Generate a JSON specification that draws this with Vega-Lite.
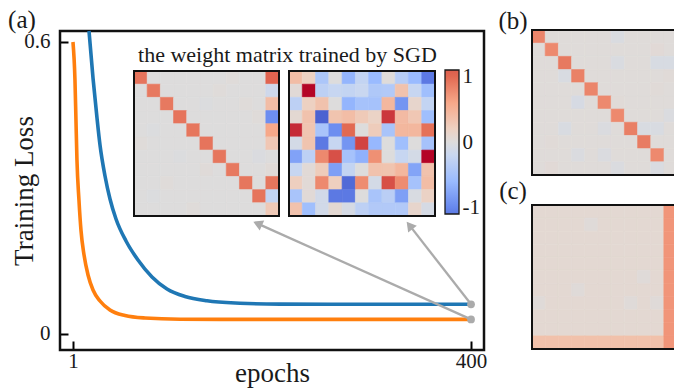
{
"$schema": "https://vega.github.io/schema/vega-lite/v6.json",
"width": 674, "height": 391, "autosize": {"type": "none"}, "padding": 0,
"background": "white",
"config": {"view": {"stroke": null}, "font": "Liberation Serif"},
"datasets": {
"loss": [
{"series":"blue","epoch":17.07,"loss":0.6226},{"series":"blue","epoch":21.08,"loss":0.526},{"series":"blue","epoch":25.09,"loss":0.4438},{"series":"blue","epoch":28.09,"loss":0.3884},{"series":"blue","epoch":33.11,"loss":0.3247},{"series":"blue","epoch":38.12,"loss":0.2774},{"series":"blue","epoch":44.13,"loss":0.2363},{"series":"blue","epoch":54.16,"loss":0.1911},{"series":"blue","epoch":66.18,"loss":0.152},{"series":"blue","epoch":80.22,"loss":0.1171},{"series":"blue","epoch":95.25,"loss":0.0924},{"series":"blue","epoch":113.3,"loss":0.077},{"series":"blue","epoch":135.35,"loss":0.0682},{"series":"blue","epoch":168.42,"loss":0.0633},{"series":"blue","epoch":208.52,"loss":0.0614},{"series":"blue","epoch":300,"loss":0.061},{"series":"blue","epoch":400,"loss":0.061},
{"series":"orange","epoch":1,"loss":0.6},{"series":"orange","epoch":3,"loss":0.5219},{"series":"orange","epoch":4,"loss":0.4397},{"series":"orange","epoch":5,"loss":0.3575},{"series":"orange","epoch":7,"loss":0.2753},{"series":"orange","epoch":9,"loss":0.2137},{"series":"orange","epoch":12.1,"loss":0.1623},{"series":"orange","epoch":16.1,"loss":0.1212},{"series":"orange","epoch":21.1,"loss":0.0904},{"series":"orange","epoch":28.1,"loss":0.0678},{"series":"orange","epoch":38.1,"loss":0.0493},{"series":"orange","epoch":53.2,"loss":0.038},{"series":"orange","epoch":73.2,"loss":0.0329},{"series":"orange","epoch":108.3,"loss":0.0304},{"series":"orange","epoch":178.4,"loss":0.03},{"series":"orange","epoch":400,"loss":0.03}
],
"arrows": [
{"id":1,"epoch":400,"loss":0.03,"epoch2":186.1,"loss2":0.2268},
{"id":2,"epoch":400,"loss":0.061,"epoch2":338.4,"loss2":0.2231}
],
"heads": [
{"id":1,"epoch":186.1,"loss":0.2268},
{"id":2,"epoch":338.4,"loss":0.2231}
],
"m1": [
{"r":0,"c":0,"v":0.93},{"r":0,"c":1,"v":0},{"r":0,"c":2,"v":0},{"r":0,"c":3,"v":0},{"r":0,"c":4,"v":0},{"r":0,"c":5,"v":0},{"r":0,"c":6,"v":0},{"r":0,"c":7,"v":0.02},{"r":0,"c":8,"v":0},{"r":0,"c":9,"v":0},{"r":0,"c":10,"v":1.02},
{"r":1,"c":0,"v":0},{"r":1,"c":1,"v":0.9},{"r":1,"c":2,"v":0},{"r":1,"c":3,"v":0},{"r":1,"c":4,"v":0},{"r":1,"c":5,"v":0},{"r":1,"c":6,"v":0.02},{"r":1,"c":7,"v":0},{"r":1,"c":8,"v":0},{"r":1,"c":9,"v":0},{"r":1,"c":10,"v":-0.15},
{"r":2,"c":0,"v":0},{"r":2,"c":1,"v":0},{"r":2,"c":2,"v":0.9},{"r":2,"c":3,"v":0},{"r":2,"c":4,"v":0},{"r":2,"c":5,"v":-0.02},{"r":2,"c":6,"v":0},{"r":2,"c":7,"v":0},{"r":2,"c":8,"v":0.02},{"r":2,"c":9,"v":0},{"r":2,"c":10,"v":0.4},
{"r":3,"c":0,"v":0},{"r":3,"c":1,"v":0},{"r":3,"c":2,"v":0},{"r":3,"c":3,"v":0.93},{"r":3,"c":4,"v":0},{"r":3,"c":5,"v":0},{"r":3,"c":6,"v":0},{"r":3,"c":7,"v":0},{"r":3,"c":8,"v":0},{"r":3,"c":9,"v":0.02},{"r":3,"c":10,"v":-0.95},
{"r":4,"c":0,"v":0},{"r":4,"c":1,"v":-0.02},{"r":4,"c":2,"v":0},{"r":4,"c":3,"v":0},{"r":4,"c":4,"v":0.92},{"r":4,"c":5,"v":0},{"r":4,"c":6,"v":0},{"r":4,"c":7,"v":0},{"r":4,"c":8,"v":0},{"r":4,"c":9,"v":0},{"r":4,"c":10,"v":0.6},
{"r":5,"c":0,"v":0.02},{"r":5,"c":1,"v":0},{"r":5,"c":2,"v":0},{"r":5,"c":3,"v":0},{"r":5,"c":4,"v":0},{"r":5,"c":5,"v":0.93},{"r":5,"c":6,"v":0},{"r":5,"c":7,"v":0},{"r":5,"c":8,"v":0},{"r":5,"c":9,"v":0},{"r":5,"c":10,"v":0.3},
{"r":6,"c":0,"v":0},{"r":6,"c":1,"v":0},{"r":6,"c":2,"v":0},{"r":6,"c":3,"v":-0.02},{"r":6,"c":4,"v":0},{"r":6,"c":5,"v":0},{"r":6,"c":6,"v":0.92},{"r":6,"c":7,"v":0},{"r":6,"c":8,"v":0},{"r":6,"c":9,"v":-0.03},{"r":6,"c":10,"v":0},
{"r":7,"c":0,"v":0},{"r":7,"c":1,"v":0},{"r":7,"c":2,"v":0},{"r":7,"c":3,"v":0},{"r":7,"c":4,"v":0},{"r":7,"c":5,"v":0.03},{"r":7,"c":6,"v":0},{"r":7,"c":7,"v":0.9},{"r":7,"c":8,"v":0},{"r":7,"c":9,"v":0},{"r":7,"c":10,"v":0.04},
{"r":8,"c":0,"v":0},{"r":8,"c":1,"v":0},{"r":8,"c":2,"v":0.02},{"r":8,"c":3,"v":0},{"r":8,"c":4,"v":0},{"r":8,"c":5,"v":0},{"r":8,"c":6,"v":0},{"r":8,"c":7,"v":0},{"r":8,"c":8,"v":0.92},{"r":8,"c":9,"v":0},{"r":8,"c":10,"v":0.92},
{"r":9,"c":0,"v":0},{"r":9,"c":1,"v":-0.02},{"r":9,"c":2,"v":0},{"r":9,"c":3,"v":0},{"r":9,"c":4,"v":0},{"r":9,"c":5,"v":0},{"r":9,"c":6,"v":0},{"r":9,"c":7,"v":0},{"r":9,"c":8,"v":0},{"r":9,"c":9,"v":0.93},{"r":9,"c":10,"v":-0.25},
{"r":10,"c":0,"v":0},{"r":10,"c":1,"v":0},{"r":10,"c":2,"v":0},{"r":10,"c":3,"v":0},{"r":10,"c":4,"v":0.02},{"r":10,"c":5,"v":0},{"r":10,"c":6,"v":0},{"r":10,"c":7,"v":0},{"r":10,"c":8,"v":0},{"r":10,"c":9,"v":0},{"r":10,"c":10,"v":0.28}
],
"m2": [
{"r":0,"c":0,"v":0.4},{"r":0,"c":1,"v":0.2},{"r":0,"c":2,"v":-0.45},{"r":0,"c":3,"v":0},{"r":0,"c":4,"v":-0.65},{"r":0,"c":5,"v":-0.25},{"r":0,"c":6,"v":-0.6},{"r":0,"c":7,"v":0.02},{"r":0,"c":8,"v":-0.35},{"r":0,"c":9,"v":-0.6},{"r":0,"c":10,"v":-1.1},
{"r":1,"c":0,"v":0.05},{"r":1,"c":1,"v":1.4},{"r":1,"c":2,"v":-0.3},{"r":1,"c":3,"v":-0.22},{"r":1,"c":4,"v":-0.25},{"r":1,"c":5,"v":-0.2},{"r":1,"c":6,"v":-0.42},{"r":1,"c":7,"v":-0.4},{"r":1,"c":8,"v":0.35},{"r":1,"c":9,"v":-0.22},{"r":1,"c":10,"v":-0.55},
{"r":2,"c":0,"v":-0.3},{"r":2,"c":1,"v":0.2},{"r":2,"c":2,"v":0.35},{"r":2,"c":3,"v":0},{"r":2,"c":4,"v":-0.65},{"r":2,"c":5,"v":-0.5},{"r":2,"c":6,"v":-0.5},{"r":2,"c":7,"v":0.45},{"r":2,"c":8,"v":-0.9},{"r":2,"c":9,"v":0.12},{"r":2,"c":10,"v":-0.25},
{"r":3,"c":0,"v":0.08},{"r":3,"c":1,"v":0.35},{"r":3,"c":2,"v":-1.25},{"r":3,"c":3,"v":0.33},{"r":3,"c":4,"v":0.4},{"r":3,"c":5,"v":0.27},{"r":3,"c":6,"v":0.17},{"r":3,"c":7,"v":1.2},{"r":3,"c":8,"v":0.42},{"r":3,"c":9,"v":0.3},{"r":3,"c":10,"v":-0.55},
{"r":4,"c":0,"v":1.25},{"r":4,"c":1,"v":0.32},{"r":4,"c":2,"v":-0.47},{"r":4,"c":3,"v":-0.95},{"r":4,"c":4,"v":1.0},{"r":4,"c":5,"v":0},{"r":4,"c":6,"v":0.25},{"r":4,"c":7,"v":-0.47},{"r":4,"c":8,"v":0.45},{"r":4,"c":9,"v":0.45},{"r":4,"c":10,"v":0.95},
{"r":5,"c":0,"v":-0.1},{"r":5,"c":1,"v":0.33},{"r":5,"c":2,"v":-1.1},{"r":5,"c":3,"v":-0.22},{"r":5,"c":4,"v":-0.9},{"r":5,"c":5,"v":1.15},{"r":5,"c":6,"v":-0.62},{"r":5,"c":7,"v":0},{"r":5,"c":8,"v":-0.55},{"r":5,"c":9,"v":0},{"r":5,"c":10,"v":-0.5},
{"r":6,"c":0,"v":-0.8},{"r":6,"c":1,"v":-0.3},{"r":6,"c":2,"v":0.8},{"r":6,"c":3,"v":1.1},{"r":6,"c":4,"v":-0.5},{"r":6,"c":5,"v":-0.68},{"r":6,"c":6,"v":0.75},{"r":6,"c":7,"v":0},{"r":6,"c":8,"v":-0.22},{"r":6,"c":9,"v":-0.1},{"r":6,"c":10,"v":1.4},
{"r":7,"c":0,"v":-0.22},{"r":7,"c":1,"v":0.05},{"r":7,"c":2,"v":0.25},{"r":7,"c":3,"v":-0.82},{"r":7,"c":4,"v":-0.25},{"r":7,"c":5,"v":0},{"r":7,"c":6,"v":0.35},{"r":7,"c":7,"v":0.33},{"r":7,"c":8,"v":0.45},{"r":7,"c":9,"v":-0.78},{"r":7,"c":10,"v":0.35},
{"r":8,"c":0,"v":0.22},{"r":8,"c":1,"v":0.05},{"r":8,"c":2,"v":0.8},{"r":8,"c":3,"v":0.22},{"r":8,"c":4,"v":-1.2},{"r":8,"c":5,"v":0.78},{"r":8,"c":6,"v":-0.1},{"r":8,"c":7,"v":1.1},{"r":8,"c":8,"v":0.78},{"r":8,"c":9,"v":-0.5},{"r":8,"c":10,"v":0.4},
{"r":9,"c":0,"v":-0.47},{"r":9,"c":1,"v":0.05},{"r":9,"c":2,"v":-0.12},{"r":9,"c":3,"v":-1.1},{"r":9,"c":4,"v":-1.1},{"r":9,"c":5,"v":0},{"r":9,"c":6,"v":-0.47},{"r":9,"c":7,"v":-0.33},{"r":9,"c":8,"v":-0.82},{"r":9,"c":9,"v":-0.05},{"r":9,"c":10,"v":0.18},
{"r":10,"c":0,"v":0.35},{"r":10,"c":1,"v":-0.55},{"r":10,"c":2,"v":-0.12},{"r":10,"c":3,"v":0.08},{"r":10,"c":4,"v":-0.08},{"r":10,"c":5,"v":-0.3},{"r":10,"c":6,"v":-0.4},{"r":10,"c":7,"v":-0.4},{"r":10,"c":8,"v":-0.4},{"r":10,"c":9,"v":0.12},{"r":10,"c":10,"v":-0.08}
],
"mb": [
{"r":0,"c":0,"v":0.82},{"r":0,"c":1,"v":0.02},{"r":0,"c":2,"v":0.02},{"r":0,"c":3,"v":0.02},{"r":0,"c":4,"v":0.02},{"r":0,"c":5,"v":0.02},{"r":0,"c":6,"v":-0.04},{"r":0,"c":7,"v":0.02},{"r":0,"c":8,"v":0.02},{"r":0,"c":9,"v":0.02},{"r":0,"c":10,"v":0.02},
{"r":1,"c":0,"v":0.02},{"r":1,"c":1,"v":0.8},{"r":1,"c":2,"v":0.02},{"r":1,"c":3,"v":0.02},{"r":1,"c":4,"v":0.02},{"r":1,"c":5,"v":0.02},{"r":1,"c":6,"v":0.02},{"r":1,"c":7,"v":0.02},{"r":1,"c":8,"v":0.02},{"r":1,"c":9,"v":0.05},{"r":1,"c":10,"v":0.02},
{"r":2,"c":0,"v":0.02},{"r":2,"c":1,"v":0.02},{"r":2,"c":2,"v":0.9},{"r":2,"c":3,"v":0.02},{"r":2,"c":4,"v":0.02},{"r":2,"c":5,"v":0.02},{"r":2,"c":6,"v":-0.04},{"r":2,"c":7,"v":0.02},{"r":2,"c":8,"v":0.02},{"r":2,"c":9,"v":-0.06},{"r":2,"c":10,"v":-0.06},
{"r":3,"c":0,"v":0.02},{"r":3,"c":1,"v":0.02},{"r":3,"c":2,"v":-0.05},{"r":3,"c":3,"v":0.85},{"r":3,"c":4,"v":0.02},{"r":3,"c":5,"v":0.02},{"r":3,"c":6,"v":0.02},{"r":3,"c":7,"v":0.02},{"r":3,"c":8,"v":0.02},{"r":3,"c":9,"v":0.02},{"r":3,"c":10,"v":0.04},
{"r":4,"c":0,"v":0.02},{"r":4,"c":1,"v":0.02},{"r":4,"c":2,"v":0.02},{"r":4,"c":3,"v":0.02},{"r":4,"c":4,"v":0.82},{"r":4,"c":5,"v":0.02},{"r":4,"c":6,"v":0.02},{"r":4,"c":7,"v":0.02},{"r":4,"c":8,"v":0.02},{"r":4,"c":9,"v":0.04},{"r":4,"c":10,"v":0.02},
{"r":5,"c":0,"v":0.02},{"r":5,"c":1,"v":0.02},{"r":5,"c":2,"v":0.02},{"r":5,"c":3,"v":-0.07},{"r":5,"c":4,"v":0.02},{"r":5,"c":5,"v":0.8},{"r":5,"c":6,"v":0.04},{"r":5,"c":7,"v":0.02},{"r":5,"c":8,"v":0.02},{"r":5,"c":9,"v":0.02},{"r":5,"c":10,"v":0.02},
{"r":6,"c":0,"v":0.02},{"r":6,"c":1,"v":0.02},{"r":6,"c":2,"v":0.02},{"r":6,"c":3,"v":0.02},{"r":6,"c":4,"v":0.02},{"r":6,"c":5,"v":0.02},{"r":6,"c":6,"v":0.8},{"r":6,"c":7,"v":0.02},{"r":6,"c":8,"v":0.02},{"r":6,"c":9,"v":0.02},{"r":6,"c":10,"v":-0.03},
{"r":7,"c":0,"v":0.02},{"r":7,"c":1,"v":0.02},{"r":7,"c":2,"v":-0.05},{"r":7,"c":3,"v":0.02},{"r":7,"c":4,"v":0.02},{"r":7,"c":5,"v":-0.03},{"r":7,"c":6,"v":0.02},{"r":7,"c":7,"v":0.86},{"r":7,"c":8,"v":-0.05},{"r":7,"c":9,"v":-0.05},{"r":7,"c":10,"v":0.02},
{"r":8,"c":0,"v":0.02},{"r":8,"c":1,"v":0.04},{"r":8,"c":2,"v":0.02},{"r":8,"c":3,"v":0.02},{"r":8,"c":4,"v":0.02},{"r":8,"c":5,"v":0.02},{"r":8,"c":6,"v":0.02},{"r":8,"c":7,"v":0.02},{"r":8,"c":8,"v":0.88},{"r":8,"c":9,"v":0.02},{"r":8,"c":10,"v":0.02},
{"r":9,"c":0,"v":0.02},{"r":9,"c":1,"v":0.02},{"r":9,"c":2,"v":0.02},{"r":9,"c":3,"v":-0.03},{"r":9,"c":4,"v":0.02},{"r":9,"c":5,"v":-0.03},{"r":9,"c":6,"v":0.02},{"r":9,"c":7,"v":0.02},{"r":9,"c":8,"v":0.02},{"r":9,"c":9,"v":0.8},{"r":9,"c":10,"v":0.02},
{"r":10,"c":0,"v":0.02},{"r":10,"c":1,"v":0.05},{"r":10,"c":2,"v":0.02},{"r":10,"c":3,"v":0.02},{"r":10,"c":4,"v":0.02},{"r":10,"c":5,"v":0.02},{"r":10,"c":6,"v":-0.03},{"r":10,"c":7,"v":0.02},{"r":10,"c":8,"v":0.02},{"r":10,"c":9,"v":-0.04},{"r":10,"c":10,"v":0.02}
],
"mc": [
{"r":0,"c":0,"v":0.08},{"r":0,"c":1,"v":0.08},{"r":0,"c":2,"v":0.08},{"r":0,"c":3,"v":0.08},{"r":0,"c":4,"v":0.08},{"r":0,"c":5,"v":0.08},{"r":0,"c":6,"v":0.08},{"r":0,"c":7,"v":0.08},{"r":0,"c":8,"v":0.08},{"r":0,"c":9,"v":0.08},{"r":0,"c":10,"v":0.72},
{"r":1,"c":0,"v":0.08},{"r":1,"c":1,"v":0.08},{"r":1,"c":2,"v":0.08},{"r":1,"c":3,"v":0.08},{"r":1,"c":4,"v":0.03},{"r":1,"c":5,"v":0.08},{"r":1,"c":6,"v":0.08},{"r":1,"c":7,"v":0.08},{"r":1,"c":8,"v":0.08},{"r":1,"c":9,"v":0.08},{"r":1,"c":10,"v":0.72},
{"r":2,"c":0,"v":0.08},{"r":2,"c":1,"v":0.08},{"r":2,"c":2,"v":0.08},{"r":2,"c":3,"v":0.08},{"r":2,"c":4,"v":0.08},{"r":2,"c":5,"v":0.08},{"r":2,"c":6,"v":0.08},{"r":2,"c":7,"v":0.08},{"r":2,"c":8,"v":0.08},{"r":2,"c":9,"v":0.08},{"r":2,"c":10,"v":0.72},
{"r":3,"c":0,"v":0.08},{"r":3,"c":1,"v":0.08},{"r":3,"c":2,"v":0.08},{"r":3,"c":3,"v":0.08},{"r":3,"c":4,"v":0.08},{"r":3,"c":5,"v":0.08},{"r":3,"c":6,"v":0.08},{"r":3,"c":7,"v":0.08},{"r":3,"c":8,"v":0.08},{"r":3,"c":9,"v":0.08},{"r":3,"c":10,"v":0.72},
{"r":4,"c":0,"v":0.08},{"r":4,"c":1,"v":0.08},{"r":4,"c":2,"v":0.08},{"r":4,"c":3,"v":0.08},{"r":4,"c":4,"v":0.08},{"r":4,"c":5,"v":0.08},{"r":4,"c":6,"v":0.08},{"r":4,"c":7,"v":0.08},{"r":4,"c":8,"v":0.08},{"r":4,"c":9,"v":0.08},{"r":4,"c":10,"v":0.72},
{"r":5,"c":0,"v":0.08},{"r":5,"c":1,"v":0.08},{"r":5,"c":2,"v":0.08},{"r":5,"c":3,"v":0.08},{"r":5,"c":4,"v":0.08},{"r":5,"c":5,"v":0.08},{"r":5,"c":6,"v":0.08},{"r":5,"c":7,"v":0.08},{"r":5,"c":8,"v":0.03},{"r":5,"c":9,"v":0.08},{"r":5,"c":10,"v":0.72},
{"r":6,"c":0,"v":0.08},{"r":6,"c":1,"v":0.08},{"r":6,"c":2,"v":0.08},{"r":6,"c":3,"v":0.03},{"r":6,"c":4,"v":0.08},{"r":6,"c":5,"v":0.08},{"r":6,"c":6,"v":0.08},{"r":6,"c":7,"v":0.08},{"r":6,"c":8,"v":0.08},{"r":6,"c":9,"v":0.08},{"r":6,"c":10,"v":0.72},
{"r":7,"c":0,"v":0.03},{"r":7,"c":1,"v":0.08},{"r":7,"c":2,"v":0.08},{"r":7,"c":3,"v":0.08},{"r":7,"c":4,"v":0.08},{"r":7,"c":5,"v":0.08},{"r":7,"c":6,"v":0.08},{"r":7,"c":7,"v":0.03},{"r":7,"c":8,"v":0.08},{"r":7,"c":9,"v":0.03},{"r":7,"c":10,"v":0.72},
{"r":8,"c":0,"v":0.08},{"r":8,"c":1,"v":0.08},{"r":8,"c":2,"v":0.08},{"r":8,"c":3,"v":0.08},{"r":8,"c":4,"v":0.08},{"r":8,"c":5,"v":0.08},{"r":8,"c":6,"v":0.08},{"r":8,"c":7,"v":0.08},{"r":8,"c":8,"v":0.08},{"r":8,"c":9,"v":0.08},{"r":8,"c":10,"v":0.72},
{"r":9,"c":0,"v":0.08},{"r":9,"c":1,"v":0.08},{"r":9,"c":2,"v":0.08},{"r":9,"c":3,"v":0.08},{"r":9,"c":4,"v":0.08},{"r":9,"c":5,"v":0.08},{"r":9,"c":6,"v":0.08},{"r":9,"c":7,"v":0.08},{"r":9,"c":8,"v":0.08},{"r":9,"c":9,"v":0.08},{"r":9,"c":10,"v":0.72},
{"r":10,"c":0,"v":0.36},{"r":10,"c":1,"v":0.36},{"r":10,"c":2,"v":0.36},{"r":10,"c":3,"v":0.36},{"r":10,"c":4,"v":0.36},{"r":10,"c":5,"v":0.36},{"r":10,"c":6,"v":0.36},{"r":10,"c":7,"v":0.36},{"r":10,"c":8,"v":0.36},{"r":10,"c":9,"v":0.36},{"r":10,"c":10,"v":0.72}
]
},
"resolve": {"scale": {"x": "independent", "y": "independent", "color": "independent", "stroke": "independent"}, "axis": {"x": "independent", "y": "independent"}},
"layer": [
{
 "data": {"values": [{}]}, "mark": {"type": "rect", "fillOpacity": 0, "stroke": "#111111", "strokeWidth": 2.5},
 "encoding": {
  "x": {"datum": 0, "type": "quantitative", "scale": {"domain": [0, 1], "range": [60, 484], "nice": false, "zero": false}, "axis": null},
  "x2": {"datum": 1},
  "y": {"datum": 0, "type": "quantitative", "scale": {"domain": [0, 1], "range": [31, 350], "nice": false, "zero": false}, "axis": null},
  "y2": {"datum": 1}
 }
},
{
 "data": {"name": "loss"},
 "encoding": {
  "x": {"field": "epoch", "type": "quantitative", "scale": {"domain": [-12, 413], "range": [60, 484], "nice": false, "zero": false},
        "axis": {"orient": "bottom", "offset": -41, "values": [1, 400], "tickSize": -9, "tickWidth": 2, "tickColor": "black", "domain": false, "grid": false, "labelFont": "Liberation Serif", "labelFontSize": 21, "labelColor": "#1a1a1a", "labelPadding": 9, "labelFlush": false, "title": "epochs", "titleFont": "Liberation Serif", "titleFontSize": 27, "titleFontWeight": "normal", "titleColor": "#1a1a1a", "titleBaseline": "alphabetic", "titleY": 31}},
  "y": {"field": "loss", "type": "quantitative", "scale": {"domain": [-0.0329, 0.6226], "range": [350, 31], "nice": false, "zero": false},
        "axis": {"orient": "left", "offset": -60, "values": [0, 0.6], "tickSize": -8, "tickWidth": 2, "tickColor": "black", "domain": false, "grid": false, "labelFont": "Liberation Serif", "labelFontSize": 21, "labelColor": "#1a1a1a", "labelPadding": 18, "labelExpr": "datum.value == 0 ? '0' : datum.label", "title": "Training Loss", "titleFont": "Liberation Serif", "titleFontSize": 27, "titleFontWeight": "normal", "titleColor": "#1a1a1a", "titleBaseline": "alphabetic", "titleX": -28}}
 },
 "layer": [
  {"mark": {"type": "line", "strokeWidth": 3.6, "interpolate": "monotone"},
   "encoding": {"color": {"field": "series", "type": "nominal", "scale": {"domain": ["blue", "orange"], "range": ["#1f77b4", "#ff7f0e"]}, "legend": null}}},
  {"data": {"name": "arrows"}, "mark": {"type": "rule", "color": "#ababab", "strokeWidth": 2.3},
   "encoding": {"x2": {"field": "epoch2"}, "y2": {"field": "loss2"}}},
  {"data": {"name": "heads"}, "transform": [{"filter": "datum.id == 1"}],
   "mark": {"type": "point", "shape": "triangle-up", "filled": true, "size": 120, "angle": 294.2, "color": "#ababab", "opacity": 1}},
  {"data": {"name": "heads"}, "transform": [{"filter": "datum.id == 2"}],
   "mark": {"type": "point", "shape": "triangle-up", "filled": true, "size": 120, "angle": 322.1, "color": "#ababab", "opacity": 1}},
  {"transform": [{"filter": "datum.epoch == 400"}],
   "mark": {"type": "point", "shape": "circle", "filled": true, "size": 60, "color": "#ababab", "opacity": 1}}
 ]
},
{
 "data": {"values": [{}]}, "mark": {"type": "text", "text": "the weight matrix trained by SGD", "font": "Liberation Serif", "fontSize": 22, "align": "center", "baseline": "alphabetic", "color": "#1a1a1a"},
 "encoding": {
  "x": {"datum": 216, "type": "quantitative", "scale": {"domain": [-12, 413], "range": [60, 484], "nice": false, "zero": false}, "axis": null},
  "y": {"datum": 0.559, "type": "quantitative", "scale": {"domain": [-0.0329, 0.6226], "range": [350, 31], "nice": false, "zero": false}, "axis": null}
 }
},
{
 "data": {"values": [{}]}, "mark": {"type": "text", "text": "(a)", "font": "Liberation Serif", "fontSize": 25, "align": "center", "baseline": "alphabetic", "color": "#1a1a1a"},
 "encoding": {
  "x": {"datum": -50.1, "type": "quantitative", "scale": {"domain": [-12, 413], "range": [60, 484], "nice": false, "zero": false}, "axis": null},
  "y": {"datum": 0.6288, "type": "quantitative", "scale": {"domain": [-0.0329, 0.6226], "range": [350, 31], "nice": false, "zero": false}, "axis": null}
 }
},
{
 "data": {"values": [{}]}, "mark": {"type": "text", "text": "(b)", "font": "Liberation Serif", "fontSize": 25, "align": "center", "baseline": "alphabetic", "color": "#1a1a1a"},
 "encoding": {
  "x": {"datum": 442.1, "type": "quantitative", "scale": {"domain": [-12, 413], "range": [60, 484], "nice": false, "zero": false}, "axis": null},
  "y": {"datum": 0.6267, "type": "quantitative", "scale": {"domain": [-0.0329, 0.6226], "range": [350, 31], "nice": false, "zero": false}, "axis": null}
 }
},
{
 "data": {"values": [{}]}, "mark": {"type": "text", "text": "(c)", "font": "Liberation Serif", "fontSize": 25, "align": "center", "baseline": "alphabetic", "color": "#1a1a1a"},
 "encoding": {
  "x": {"datum": 442.1, "type": "quantitative", "scale": {"domain": [-12, 413], "range": [60, 484], "nice": false, "zero": false}, "axis": null},
  "y": {"datum": 0.2774, "type": "quantitative", "scale": {"domain": [-0.0329, 0.6226], "range": [350, 31], "nice": false, "zero": false}, "axis": null}
 }
},
{
 "data": {"name": "m1"}, "mark": {"type": "rect", "strokeWidth": 0.6},
 "encoding": {
  "x": {"field": "c", "type": "ordinal", "scale": {"range": [134, 279], "paddingInner": 0, "paddingOuter": 0}, "axis": null},
  "y": {"field": "r", "type": "ordinal", "scale": {"range": [71, 216], "paddingInner": 0, "paddingOuter": 0}, "axis": null},
  "color": {"field": "v", "type": "quantitative", "scale": {"type": "linear", "domain": [-1.4, -1, -0.6, -0.2, 0, 0.2, 0.6, 1, 1.4], "range": ["#3b4cc0", "#6788ee", "#9abbff", "#c9d7f0", "#dddcdc", "#edd1c2", "#f7a889", "#e26952", "#b40426"], "interpolate": "rgb", "clamp": true}, "legend": null},
  "stroke": {"field": "v", "type": "quantitative", "scale": {"type": "linear", "domain": [-1.4, -1, -0.6, -0.2, 0, 0.2, 0.6, 1, 1.4], "range": ["#3b4cc0", "#6788ee", "#9abbff", "#c9d7f0", "#dddcdc", "#edd1c2", "#f7a889", "#e26952", "#b40426"], "interpolate": "rgb", "clamp": true}, "legend": null}
 }
},
{
 "data": {"values": [{}]}, "mark": {"type": "rect", "fillOpacity": 0, "stroke": "#111111", "strokeWidth": 2},
 "encoding": {
  "x": {"datum": 0, "type": "quantitative", "scale": {"domain": [0, 1], "range": [134, 279], "nice": false, "zero": false}, "axis": null},
  "x2": {"datum": 1},
  "y": {"datum": 0, "type": "quantitative", "scale": {"domain": [0, 1], "range": [71, 216], "nice": false, "zero": false}, "axis": null},
  "y2": {"datum": 1}
 }
},
{
 "data": {"name": "m2"}, "mark": {"type": "rect", "strokeWidth": 0.6},
 "encoding": {
  "x": {"field": "c", "type": "ordinal", "scale": {"range": [289, 435], "paddingInner": 0, "paddingOuter": 0}, "axis": null},
  "y": {"field": "r", "type": "ordinal", "scale": {"range": [71, 216], "paddingInner": 0, "paddingOuter": 0}, "axis": null},
  "color": {"field": "v", "type": "quantitative", "scale": {"type": "linear", "domain": [-1.4, -1, -0.6, -0.2, 0, 0.2, 0.6, 1, 1.4], "range": ["#3b4cc0", "#6788ee", "#9abbff", "#c9d7f0", "#dddcdc", "#edd1c2", "#f7a889", "#e26952", "#b40426"], "interpolate": "rgb", "clamp": true}, "legend": null},
  "stroke": {"field": "v", "type": "quantitative", "scale": {"type": "linear", "domain": [-1.4, -1, -0.6, -0.2, 0, 0.2, 0.6, 1, 1.4], "range": ["#3b4cc0", "#6788ee", "#9abbff", "#c9d7f0", "#dddcdc", "#edd1c2", "#f7a889", "#e26952", "#b40426"], "interpolate": "rgb", "clamp": true}, "legend": null}
 }
},
{
 "data": {"values": [{}]}, "mark": {"type": "rect", "fillOpacity": 0, "stroke": "#111111", "strokeWidth": 2},
 "encoding": {
  "x": {"datum": 0, "type": "quantitative", "scale": {"domain": [0, 1], "range": [289, 435], "nice": false, "zero": false}, "axis": null},
  "x2": {"datum": 1},
  "y": {"datum": 0, "type": "quantitative", "scale": {"domain": [0, 1], "range": [71, 216], "nice": false, "zero": false}, "axis": null},
  "y2": {"datum": 1}
 }
},
{
 "data": {"values": [{"lo": -1.1, "hi": 1.1}]},
 "mark": {"type": "rect", "stroke": "#1a1a1a", "strokeWidth": 1.3,
  "fill": {"gradient": "linear", "x1": 0, "y1": 1, "x2": 0, "y2": 0, "stops": [
   {"offset": 0, "color": "#5c79e2"}, {"offset": 0.0455, "color": "#6788ee"}, {"offset": 0.2273, "color": "#9abbff"}, {"offset": 0.4091, "color": "#c9d7f0"}, {"offset": 0.5, "color": "#dddcdc"}, {"offset": 0.5909, "color": "#edd1c2"}, {"offset": 0.7727, "color": "#f7a889"}, {"offset": 0.9545, "color": "#e26952"}, {"offset": 1, "color": "#dc5e4d"}]}},
 "encoding": {
  "x": {"datum": 0, "type": "quantitative", "scale": {"domain": [0, 1], "range": [445, 459], "nice": false, "zero": false}, "axis": null},
  "x2": {"datum": 1},
  "y": {"field": "lo", "type": "quantitative", "scale": {"domain": [-1.1, 1.1], "range": [214, 70], "nice": false, "zero": false},
        "axis": {"orient": "right", "offset": -215, "values": [-1, 0, 1], "ticks": false, "domain": false, "grid": false, "labelFont": "Liberation Serif", "labelFontSize": 21, "labelColor": "#1a1a1a", "labelPadding": 3, "labelExpr": "datum.value < 0 ? '-1' : datum.label", "title": null}},
  "y2": {"field": "hi"}
 }
},
{
 "data": {"name": "mb"}, "mark": {"type": "rect", "strokeWidth": 0.6},
 "encoding": {
  "x": {"field": "c", "type": "ordinal", "scale": {"range": [532, 677.2], "paddingInner": 0, "paddingOuter": 0}, "axis": null},
  "y": {"field": "r", "type": "ordinal", "scale": {"range": [30, 175], "paddingInner": 0, "paddingOuter": 0}, "axis": null},
  "color": {"field": "v", "type": "quantitative", "scale": {"type": "linear", "domain": [-1.4, -1, -0.6, -0.2, 0, 0.2, 0.6, 1, 1.4], "range": ["#3b4cc0", "#6788ee", "#9abbff", "#c9d7f0", "#dddcdc", "#edd1c2", "#f7a889", "#e26952", "#b40426"], "interpolate": "rgb", "clamp": true}, "legend": null},
  "stroke": {"field": "v", "type": "quantitative", "scale": {"type": "linear", "domain": [-1.4, -1, -0.6, -0.2, 0, 0.2, 0.6, 1, 1.4], "range": ["#3b4cc0", "#6788ee", "#9abbff", "#c9d7f0", "#dddcdc", "#edd1c2", "#f7a889", "#e26952", "#b40426"], "interpolate": "rgb", "clamp": true}, "legend": null}
 }
},
{
 "data": {"values": [{}]}, "mark": {"type": "rect", "fillOpacity": 0, "stroke": "#111111", "strokeWidth": 2},
 "encoding": {
  "x": {"datum": 0, "type": "quantitative", "scale": {"domain": [0, 1], "range": [532, 677.2], "nice": false, "zero": false}, "axis": null},
  "x2": {"datum": 1},
  "y": {"datum": 0, "type": "quantitative", "scale": {"domain": [0, 1], "range": [30, 175], "nice": false, "zero": false}, "axis": null},
  "y2": {"datum": 1}
 }
},
{
 "data": {"name": "mc"}, "mark": {"type": "rect", "strokeWidth": 0.6},
 "encoding": {
  "x": {"field": "c", "type": "ordinal", "scale": {"range": [532, 677], "paddingInner": 0, "paddingOuter": 0}, "axis": null},
  "y": {"field": "r", "type": "ordinal", "scale": {"range": [205, 349], "paddingInner": 0, "paddingOuter": 0}, "axis": null},
  "color": {"field": "v", "type": "quantitative", "scale": {"type": "linear", "domain": [-1.4, -1, -0.6, -0.2, 0, 0.2, 0.6, 1, 1.4], "range": ["#3b4cc0", "#6788ee", "#9abbff", "#c9d7f0", "#dddcdc", "#edd1c2", "#f7a889", "#e26952", "#b40426"], "interpolate": "rgb", "clamp": true}, "legend": null},
  "stroke": {"field": "v", "type": "quantitative", "scale": {"type": "linear", "domain": [-1.4, -1, -0.6, -0.2, 0, 0.2, 0.6, 1, 1.4], "range": ["#3b4cc0", "#6788ee", "#9abbff", "#c9d7f0", "#dddcdc", "#edd1c2", "#f7a889", "#e26952", "#b40426"], "interpolate": "rgb", "clamp": true}, "legend": null}
 }
},
{
 "data": {"values": [{}]}, "mark": {"type": "rect", "fillOpacity": 0, "stroke": "#111111", "strokeWidth": 2},
 "encoding": {
  "x": {"datum": 0, "type": "quantitative", "scale": {"domain": [0, 1], "range": [532, 677], "nice": false, "zero": false}, "axis": null},
  "x2": {"datum": 1},
  "y": {"datum": 0, "type": "quantitative", "scale": {"domain": [0, 1], "range": [205, 349], "nice": false, "zero": false}, "axis": null},
  "y2": {"datum": 1}
 }
}
]
}
